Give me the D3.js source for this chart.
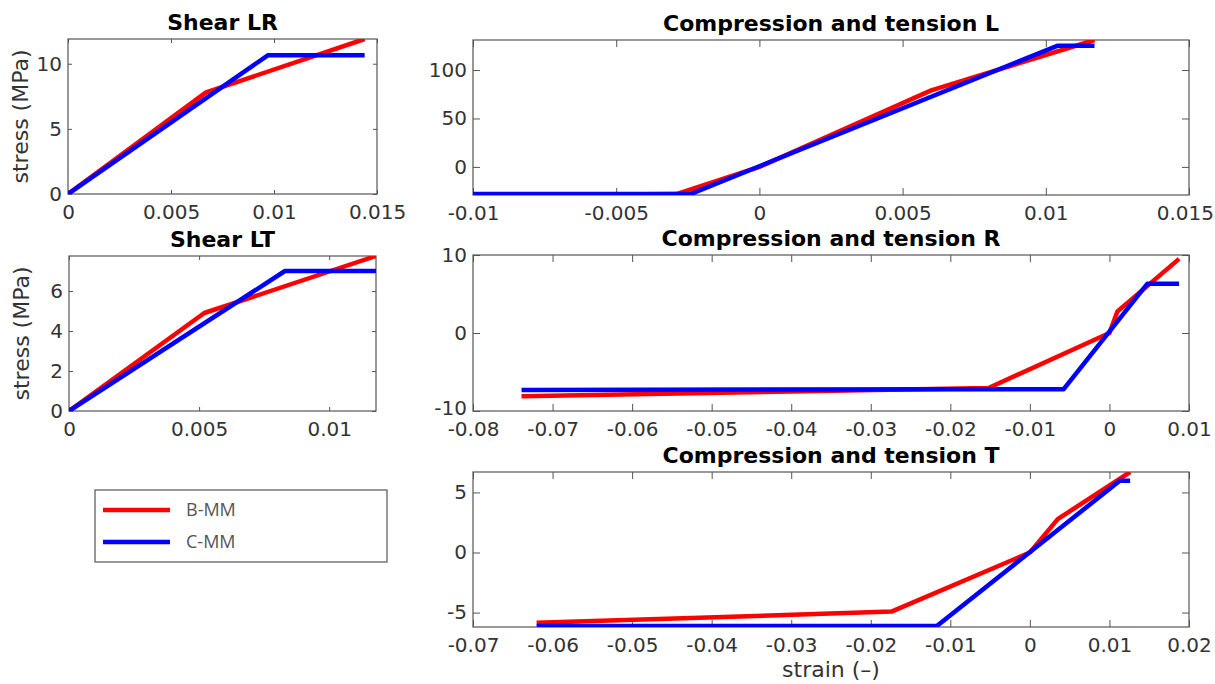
<!DOCTYPE html>
<html>
<head>
<meta charset="utf-8">
<script src="https://cdn.jsdelivr.net/npm/d3@7"></script>
<style>
  html, body { margin: 0; padding: 0; background: #fff; }
  svg { display: block; }
  .tick-label { font-family: "DejaVu Sans", sans-serif; font-size: 20px; fill: #333; }
  .title { font-family: "DejaVu Sans", sans-serif; font-size: 22px; font-weight: bold; fill: #000; }
  .axis-label { font-family: "DejaVu Sans", sans-serif; font-size: 22px; fill: #333; }
  .legend-text { font-family: "Open Sans", sans-serif; font-size: 18px; fill: #555; }
</style>
</head>
<body>
<svg id="chart" width="1215" height="684"></svg>
<script>
// ---------------- DATA ----------------
const seriesNames = ["B-MM", "C-MM"];
const seriesColors = ["#ff0000", "#0000ff"];

// Shear LR
const shearLR_B_strain = [0, 0.0067, 0.0144];
const shearLR_B_stress = [0, 7.8, 11.9];
const shearLR_C_strain = [0, 0.0097, 0.0144];
const shearLR_C_stress = [0, 10.65, 10.65];
const shearLR_xTicks = [0, 0.005, 0.01, 0.015];
const shearLR_xTickLabels = ["0", "0.005", "0.01", "0.015"];
const shearLR_yTicks = [0, 5, 10];
const shearLR_yTickLabels = ["0", "5", "10"];

// Shear LT
const shearLT_B_strain = [0, 0.0052, 0.0118];
const shearLT_B_stress = [0, 4.9, 7.75];
const shearLT_C_strain = [0, 0.0083, 0.0118];
const shearLT_C_stress = [0, 7.0, 7.0];
const shearLT_xTicks = [0, 0.005, 0.01];
const shearLT_xTickLabels = ["0", "0.005", "0.01"];
const shearLT_yTicks = [0, 2, 4, 6];
const shearLT_yTickLabels = ["0", "2", "4", "6"];

// Compression and tension L
const compL_B_strain = [-0.01, -0.0029, 0, 0.006, 0.0117];
const compL_B_stress = [-29.5, -28, 0, 79, 131];
const compL_C_strain = [-0.01, -0.0024, 0.0104, 0.0117];
const compL_C_stress = [-28, -28, 125, 125];
const compL_xTicks = [-0.01, -0.005, 0, 0.005, 0.01, 0.015];
const compL_xTickLabels = ["-0.01", "-0.005", "0", "0.005", "0.01", "0.015"];
const compL_yTicks = [0, 50, 100];
const compL_yTickLabels = ["0", "50", "100"];

// Compression and tension R
const compR_B_strain = [-0.0739, -0.0152, 0, 0.001, 0.00875];
const compR_B_stress = [-8.1, -7.05, 0, 2.75, 9.5];
const compR_C_strain = [-0.0739, -0.00575, 0.00475, 0.00875];
const compR_C_stress = [-7.3, -7.2, 6.3, 6.3];
const compR_xTicks = [-0.08, -0.07, -0.06, -0.05, -0.04, -0.03, -0.02, -0.01, 0, 0.01];
const compR_xTickLabels = ["-0.08", "-0.07", "-0.06", "-0.05", "-0.04", "-0.03", "-0.02", "-0.01", "0", "0.01"];
const compR_yTicks = [-10, 0, 10];
const compR_yTickLabels = ["-10", "0", "10"];

// Compression and tension T
const compT_B_strain = [-0.062, -0.0174, 0, 0.0035, 0.0126];
const compT_B_stress = [-5.85, -4.92, 0, 2.78, 6.7];
const compT_C_strain = [-0.062, -0.0117, 0.0113, 0.0126];
const compT_C_stress = [-6.12, -6.12, 5.97, 5.97];
const compT_xTicks = [-0.07, -0.06, -0.05, -0.04, -0.03, -0.02, -0.01, 0, 0.01, 0.02];
const compT_xTickLabels = ["-0.07", "-0.06", "-0.05", "-0.04", "-0.03", "-0.02", "-0.01", "0", "0.01", "0.02"];
const compT_yTicks = [-5, 0, 5];
const compT_yTickLabels = ["-5", "0", "5"];

const titles = ["Shear LR", "Shear LT", "Compression and tension L", "Compression and tension R", "Compression and tension T"];
const yLabelText = "stress (MPa)";
const xLabelText = "strain (–)";

// ---------------- LAYOUT ----------------
const svg = d3.select("#chart");
const zip = (xs, ys) => xs.map((x, i) => [x, ys[i]]);

const panels = [
  { title: titles[0], box: [68, 39, 377, 194], xDom: [0, 0.015], yDom: [0, 11.9],
    xT: shearLR_xTicks, xL: shearLR_xTickLabels, yT: shearLR_yTicks, yL: shearLR_yTickLabels,
    series: [zip(shearLR_B_strain, shearLR_B_stress), zip(shearLR_C_strain, shearLR_C_stress)],
    tickLen: 4, ylabel: true },
  { title: titles[1], box: [69, 256, 376, 411], xDom: [0, 0.0118], yDom: [0, 7.75],
    xT: shearLT_xTicks, xL: shearLT_xTickLabels, yT: shearLT_yTicks, yL: shearLT_yTickLabels,
    series: [zip(shearLT_B_strain, shearLT_B_stress), zip(shearLT_C_strain, shearLT_C_stress)],
    tickLen: 4, ylabel: true },
  { title: titles[2], box: [473, 40, 1189, 195], xDom: [-0.01, 0.015], yDom: [-29, 131],
    xT: compL_xTicks, xL: compL_xTickLabels, yT: compL_yTicks, yL: compL_yTickLabels,
    series: [zip(compL_B_strain, compL_B_stress), zip(compL_C_strain, compL_C_stress)],
    tickLen: 7 },
  { title: titles[3], box: [473, 255, 1189, 411], xDom: [-0.08, 0.01], yDom: [-10, 10],
    xT: compR_xTicks, xL: compR_xTickLabels, yT: compR_yTicks, yL: compR_yTickLabels,
    series: [zip(compR_B_strain, compR_B_stress), zip(compR_C_strain, compR_C_stress)],
    tickLen: 7 },
  { title: titles[4], box: [473, 472, 1189, 627], xDom: [-0.07, 0.02], yDom: [-6.2, 6.7],
    xT: compT_xTicks, xL: compT_xTickLabels, yT: compT_yTicks, yL: compT_yTickLabels,
    series: [zip(compT_B_strain, compT_B_stress), zip(compT_C_strain, compT_C_stress)],
    tickLen: 7, xlabel: true }
];

panels.forEach((p, idx) => {
  const [x0, y0, x1, y1] = p.box;
  const x = d3.scaleLinear().domain(p.xDom).range([x0, x1]);
  const y = d3.scaleLinear().domain(p.yDom).range([y1, y0]);
  const g = svg.append("g");

  const clipId = "clip" + idx;
  svg.append("clipPath").attr("id", clipId).append("rect")
    .attr("x", x0).attr("y", y0).attr("width", x1 - x0).attr("height", y1 - y0);

  const fmtX = (d) => p.xL[p.xT.indexOf(d)];
  const fmtY = (d) => p.yL[p.yT.indexOf(d)];
  const axB = d3.axisBottom(x).tickValues(p.xT).tickFormat(fmtX).tickSizeInner(-p.tickLen).tickSizeOuter(0).tickPadding(11);
  const axT = d3.axisTop(x).tickValues(p.xT).tickFormat("").tickSizeInner(-p.tickLen).tickSizeOuter(0);
  const axL = d3.axisLeft(y).tickValues(p.yT).tickFormat(fmtY).tickSizeInner(-p.tickLen).tickSizeOuter(0).tickPadding(6);
  const axR = d3.axisRight(y).tickValues(p.yT).tickFormat("").tickSizeInner(-p.tickLen).tickSizeOuter(0);

  const gb = g.append("g").attr("transform", `translate(0,${y1})`).call(axB);
  const gt = g.append("g").attr("transform", `translate(0,${y0})`).call(axT);
  const gl = g.append("g").attr("transform", `translate(${x0},0)`).call(axL);
  const gr = g.append("g").attr("transform", `translate(${x1},0)`).call(axR);
  [gb, gt, gl, gr].forEach(a => {
    a.select(".domain").remove();
    a.selectAll("line").attr("stroke", "#555").attr("stroke-width", 1);
    a.selectAll("text").attr("class", "tick-label").attr("fill", null);
  });
  gl.selectAll("text").attr("x", -6);
  // lift a y label sitting on the bottom edge when it is wide enough to touch the x labels
  gl.selectAll("text").each(function(d) {
    if (d === p.yDom[0] && this.getComputedTextLength() > 25) d3.select(this).attr("y", -3);
  });
  gb.selectAll("text").attr("dy", "0.71em");
  gb.selectAll("text").each(function() {
    const b = this.getBBox();
    const ctm = this.parentNode.getCTM();
    const right = ctm.e + b.x + b.width;
    if (right > 1214) d3.select(this).attr("x", -(right - 1214));
  });

  g.append("rect").attr("x", x0).attr("y", y0).attr("width", x1 - x0).attr("height", y1 - y0)
    .attr("fill", "none").attr("stroke", "#555").attr("stroke-width", 1.2);

  const line = d3.line().x(d => x(d[0])).y(d => y(d[1]));
  p.series.forEach((s, si) => {
    g.append("path").datum(s).attr("d", line)
      .attr("clip-path", `url(#${clipId})`)
      .attr("fill", "none").attr("stroke", seriesColors[si])
      .attr("stroke-width", 4.5).attr("stroke-linejoin", "round").attr("stroke-linecap", "butt");
  });

  g.append("text").attr("class", "title").attr("x", (x0 + x1) / 2).attr("y", y0 - 9)
    .attr("text-anchor", "middle").text(p.title);

  if (p.ylabel) {
    g.append("text").attr("class", "axis-label")
      .attr("transform", `translate(${x0 - 40},${(y0 + y1) / 2}) rotate(-90)`)
      .attr("text-anchor", "middle").text(yLabelText);
  }
  if (p.xlabel) {
    g.append("text").attr("class", "axis-label").attr("x", (x0 + x1) / 2).attr("y", y1 + 50)
      .attr("text-anchor", "middle").text(xLabelText);
  }
});

// Legend
const lg = svg.append("g");
lg.append("rect").attr("x", 95).attr("y", 490).attr("width", 292).attr("height", 72)
  .attr("fill", "#fff").attr("stroke", "#555").attr("stroke-width", 1.2);
seriesNames.forEach((name, i) => {
  const ly = 510 + i * 32;
  lg.append("line").attr("x1", 103).attr("x2", 170).attr("y1", ly).attr("y2", ly)
    .attr("stroke", seriesColors[i]).attr("stroke-width", 4.5);
  lg.append("text").attr("class", "legend-text").attr("x", 186).attr("y", ly).attr("dy", "0.35em").text(name);
});
</script>
</body>
</html>
